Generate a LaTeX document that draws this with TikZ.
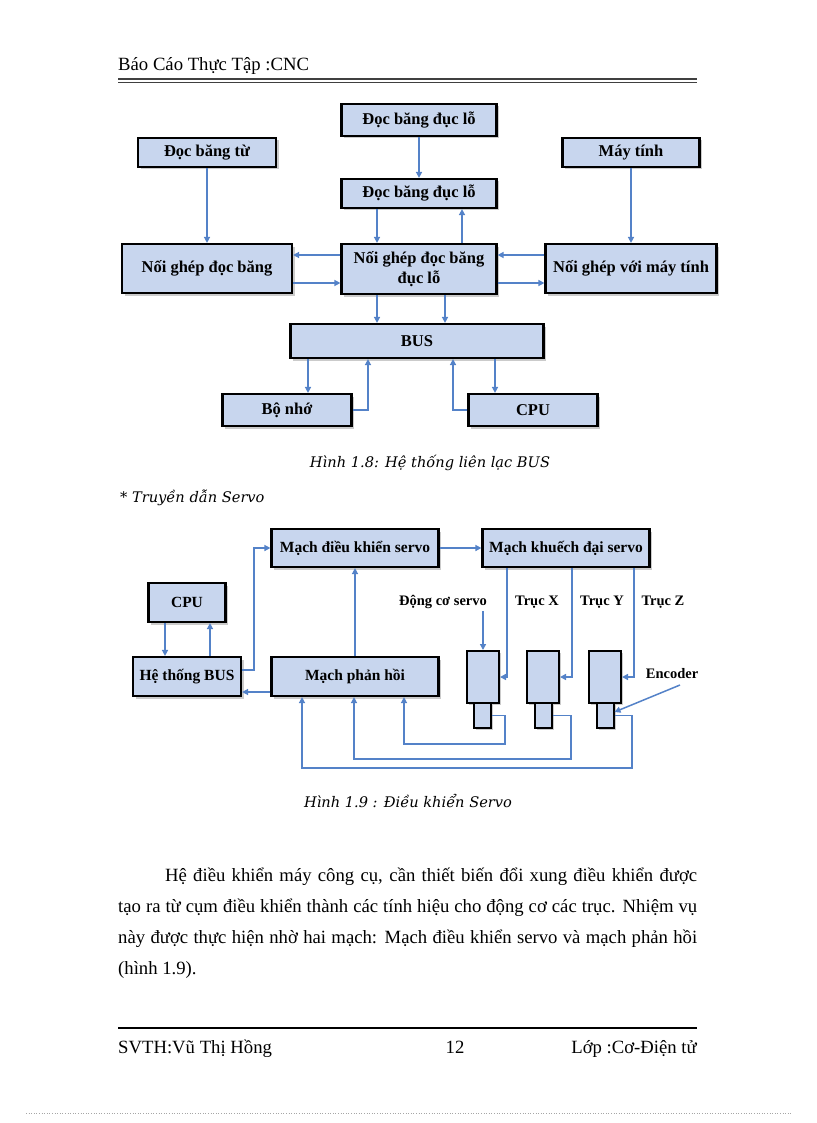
\documentclass[tikz,border=0pt]{standalone}
\usepackage{fontspec}
\setmainfont{Liberation Serif}
\newfontfamily\capfont{DejaVu Serif}
\usetikzlibrary{arrows.meta,shadows,calc}
\definecolor{boxblue}{RGB}{200,214,238}
\definecolor{arrowblue}{RGB}{84,130,200}
\begin{document}
\begin{tikzpicture}[x=1pt,y=-1pt,
  box/.style={draw=black, line width=2.2pt, fill=boxblue, inner sep=0pt, align=center,
    font=\bfseries\fontsize{16.5}{20}\selectfont,
    drop shadow={shadow xshift=2.5pt, shadow yshift=-2.5pt, fill=black!40, opacity=.5}},
  boxb/.style={box, font=\bfseries\fontsize{15.5}{17}\selectfont},
  motor/.style={draw=black, line width=2pt, fill=boxblue, inner sep=0pt,
    drop shadow={shadow xshift=2pt, shadow yshift=-2pt, fill=black!40, opacity=.5}},
  arr/.style={draw=arrowblue, line width=1.5pt, -{Triangle[length=6pt,width=6pt]}},
  lbl/.style={font=\bfseries\fontsize{14.5}{16}\selectfont, inner sep=0pt},
  bodytxt/.style={font=\fontsize{18.7}{20}\selectfont, inner sep=0pt},
  captxt/.style={font=\capfont\itshape\fontsize{14.6}{17}\selectfont, inner sep=0pt}]
\useasboundingbox (0,0) rectangle (816,1123);
\fill[white] (0,0) rectangle (816,1123);

% header
\node[bodytxt, anchor=base west] (head) at (118,71) {Báo Cáo Thực Tập :CNC};
\draw[black!75, line width=1.3pt] (118,79) -- (697,79);
\draw[black!75, line width=0.7pt] (118,82.3) -- (697,82.3);

% ---------- Figure 1.8 ----------
\node[box, minimum width=155, minimum height=32] (tape1) at (419,120) {Đọc băng đục lỗ};
\node[box, minimum width=138, minimum height=29] (tapeMag) at (207,152.5) {Đọc băng từ};
\node[box, minimum width=137, minimum height=29] (pc) at (631,152.5) {Máy tính};
\node[box, minimum width=155, minimum height=29] (tape2) at (419,193.5) {Đọc băng đục lỗ};
\node[box, minimum width=170, minimum height=49] (ifTape) at (207,268.5) {Nối ghép đọc băng};
\node[box, minimum width=155, minimum height=50] (ifPunch) at (419,269) {Nối ghép đọc băng\\đục lỗ};
\node[box, minimum width=171, minimum height=49] (ifPC) at (631,268.5) {Nối ghép với máy tính};
\node[box, minimum width=253, minimum height=34] (bus) at (417,341) {BUS};
\node[box, minimum width=129, minimum height=32] (mem) at (287,410) {Bộ nhớ};
\node[box, minimum width=129, minimum height=32] (cpu) at (533,410) {CPU};

\draw[arr] (tape1) -- (tape2);
\draw[arr] (tape2.south -| 377,0) -- (ifPunch.north -| 377,0);
\draw[arr] (ifPunch.north -| 462,0) -- (tape2.south -| 462,0);
\draw[arr] (tapeMag) -- (ifTape);
\draw[arr] (pc) -- (ifPC);
\draw[arr] (ifPunch.west |- 0,255) -- (ifTape.east |- 0,255);
\draw[arr] (ifTape.east |- 0,283) -- (ifPunch.west |- 0,283);
\draw[arr] (ifPC.west |- 0,255) -- (ifPunch.east |- 0,255);
\draw[arr] (ifPunch.east |- 0,283) -- (ifPC.west |- 0,283);
\draw[arr] (ifPunch.south -| 377,0) -- (bus.north -| 377,0);
\draw[arr] (ifPunch.south -| 445,0) -- (bus.north -| 445,0);
\draw[arr] (bus.south -| 308,0) -- (mem.north -| 308,0);
\draw[arr] (mem.east) -| (bus.south -| 368,0);
\draw[arr] (cpu.west) -| (bus.south -| 453,0);
\draw[arr] (bus.south -| 495,0) -- (cpu.north -| 495,0);

\node[captxt, anchor=base] (cap1) at (430,467) {Hình 1.8: Hệ thống liên lạc BUS};
\node[captxt, anchor=base west] (sub) at (120,502) {* Truyền dẫn Servo};

% ---------- Figure 1.9 ----------
\node[boxb, minimum width=167, minimum height=38] (ctrl) at (355,548) {Mạch điều khiển servo};
\node[boxb, minimum width=167, minimum height=38] (amp) at (566,548) {Mạch khuếch đại servo};
\node[boxb, minimum width=77, minimum height=39] (cpu2) at (187,602.5) {CPU};
\node[boxb, minimum width=108, minimum height=39] (bus2) at (187,676.5) {Hệ thống BUS};
\node[boxb, minimum width=167, minimum height=39] (fb) at (355,676.5) {Mạch phản hồi};

\node[motor, minimum width=32, minimum height=52] (m1) at (483,677) {};
\node[motor, minimum width=17, minimum height=25] (s1) at (482.5,715.5) {};
\node[motor, minimum width=32, minimum height=52] (m2) at (543,677) {};
\node[motor, minimum width=17, minimum height=25] (s2) at (543.5,715.5) {};
\node[motor, minimum width=32, minimum height=52] (m3) at (605,677) {};
\node[motor, minimum width=17, minimum height=25] (s3) at (605,715.5) {};

\node[lbl] (lmot) at (443,602) {Động cơ servo};
\node[lbl] (lx) at (537,602) {Trục X};
\node[lbl] (ly) at (602,602) {Trục Y};
\node[lbl] (lz) at (663,602) {Trục Z};
\node[lbl] (enc) at (672,674) {Encoder};
\coordinate (encT) at (680,685);

\draw[arr] (cpu2.south -| 165,0) -- (bus2.north -| 165,0);
\draw[arr] (bus2.north -| 210,0) -- (cpu2.south -| 210,0);
\draw[arr] (bus2.east |- 0,670) -- ++(12,0) |- (ctrl.west);
\draw[arr] (fb.west |- 0,692) -- (bus2.east |- 0,692);
\draw[arr] (fb) -- (ctrl);
\draw[arr] (ctrl) -- (amp);
\draw[arr] (amp.south -| 507,0) |- (m1.east);
\draw[arr] (amp.south -| 572,0) |- (m2.east);
\draw[arr] (amp.south -| 634,0) |- (m3.east);
\draw[arr] (lmot.south -| m1.north) ++(0,2) -- (m1.north);
\draw[arr] (encT) -- (s3.east |- 0,712);
\draw[arr] (s1.east) -| (505,744) -| (fb.south -| 404,0);
\draw[arr] (s2.east) -| (571,759) -| (fb.south -| 354,0);
\draw[arr] (s3.east) -| (632,768) -| (fb.south -| 302,0);

\node[captxt, anchor=base] (cap2) at (408,807) {Hình 1.9 : Điều khiển Servo};

% ---------- paragraph ----------
\node[bodytxt, anchor=base west] (p1) at (165,881) {\makebox[532pt][s]{Hệ điều khiển máy công cụ, cần thiết biến đổi xung điều khiển được}};
\node[bodytxt, anchor=base west] (p2) at (118,912) {\makebox[579pt][s]{tạo ra từ cụm điều khiển thành các tính hiệu cho động cơ các trục. Nhiệm vụ}};
\node[bodytxt, anchor=base west] (p3) at (118,943) {\makebox[579pt][s]{này được thực hiện nhờ hai mạch: Mạch điều khiển servo và mạch phản hồi}};
\node[bodytxt, anchor=base west] (p4) at (118,974) {(hình 1.9).};

% footer
\draw[black, line width=1.6pt] (118,1028) -- (697,1028);
\node[bodytxt, anchor=base west] (f1) at (118,1053) {SVTH:Vũ Thị Hồng};
\node[bodytxt, anchor=base] (f2) at (455,1053) {12};
\node[bodytxt, anchor=base east] (f3) at (697,1053) {Lớp :Cơ-Điện tử};

\draw[black!35, line width=0.6pt, dotted] (26,1113) -- (792,1113);
\end{tikzpicture}
\end{document}
